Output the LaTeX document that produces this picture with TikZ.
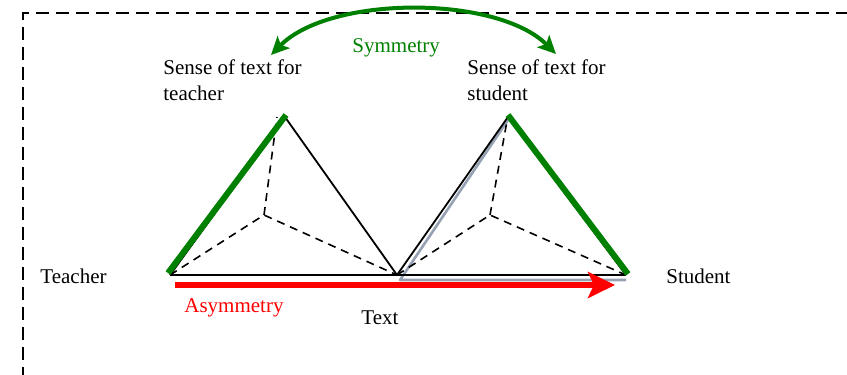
\documentclass[tikz,border=0pt]{standalone}
\usepackage{fontspec}
\setmainfont{Liberation Serif}
\usetikzlibrary{arrows.meta}
\definecolor{dgreen}{RGB}{0,128,0}
\definecolor{slate}{RGB}{150,162,180}
\tikzset{
  lbl/.style={inner sep=0pt, font=\fontsize{10.5}{13}\selectfont},
  edge/.style={line width=0.9pt, line join=round},
  hidden/.style={line width=0.8pt, dash pattern=on 4pt off 3pt},
  sense/.style={line width=3pt, draw=dgreen},
}
\begin{document}
\begin{tikzpicture}[x=0.5pt,y=-0.5pt]
\useasboundingbox (0,0) rectangle (847,375);
\clip (0,0) rectangle (847,375);
% frame
\draw[line width=1pt, dash pattern=on 6.5pt off 3.5pt] (23,400) -- (23,13) -- (870,13);
% vertices
\coordinate (TL) at (170,275);
\coordinate (TA) at (285,117);
\coordinate (TAd) at (277,117);
\coordinate (TI) at (264,215);
\coordinate (TM) at (397,275);
\coordinate (SA) at (508,117);
\coordinate (SAd) at (507,121);
\coordinate (SI) at (490,215);
\coordinate (SR) at (626,275);
\coordinate (GL) at (400,280);
\coordinate (GA) at (508,120);
\coordinate (GR) at (626,280);
% gray shifted triangle (right side hidden under green)
\draw[slate, line width=1.3pt, line join=round] (GA) -- (GL) -- (GR);
% solid edges
\draw[edge] (TL) -- (SR);
\draw[edge] (TA) -- (TM) -- (SA);
\draw[edge] (TL) -- (TA);
\draw[edge] (SA) -- (SR);
% hidden edges
\draw[hidden] (TL) -- (TI) -- (TM);
\draw[hidden] (TI) -- (TAd);
\draw[hidden] (TM) -- (SI) -- (SR);
\draw[hidden] (SI) -- (SAd);
% green sense lines
\coordinate (g1a) at (168,273);
\coordinate (g1b) at (286,115);
\coordinate (g2a) at (508,115);
\coordinate (g2b) at (628,274);
\draw[sense] (g1a) -- (g1b);
\draw[sense] (g2a) -- (g2b);
% red asymmetry arrow
\coordinate (redL) at (175,285);
\coordinate (redR) at (615,285);
\draw[red, line width=3pt, -{Stealth[length=13.5pt,width=13pt,inset=3pt]}] (redL) -- (redR);
% green symmetry arc
\coordinate (arcL) at (271,55);
\coordinate (arcR) at (556,54);
\draw[dgreen, line width=2pt, {Stealth[length=9pt,width=8.5pt,inset=2pt]}-{Stealth[length=9pt,width=8.5pt,inset=2pt]}]
  (arcL) .. controls (330,-5) and (497,-5) .. (arcR);
% labels
\node[lbl, anchor=north west, align=left] (st) at (163,59) {Sense of text for\\teacher};
\node[lbl, anchor=north west, align=left] (ss) at (467,59) {Sense of text for\\student};
\node[lbl, anchor=base west, text=dgreen] (sym) at (352,53) {Symmetry};
\node[lbl, anchor=base west] (teacher) at (40,283) {Teacher};
\node[lbl, anchor=base west] (student) at (666,283) {Student};
\node[lbl, anchor=base] (text) at (380,324) {Text};
\node[lbl, anchor=base west, text=red] (asym) at (184,312) {Asymmetry};
\end{tikzpicture}
\end{document}
